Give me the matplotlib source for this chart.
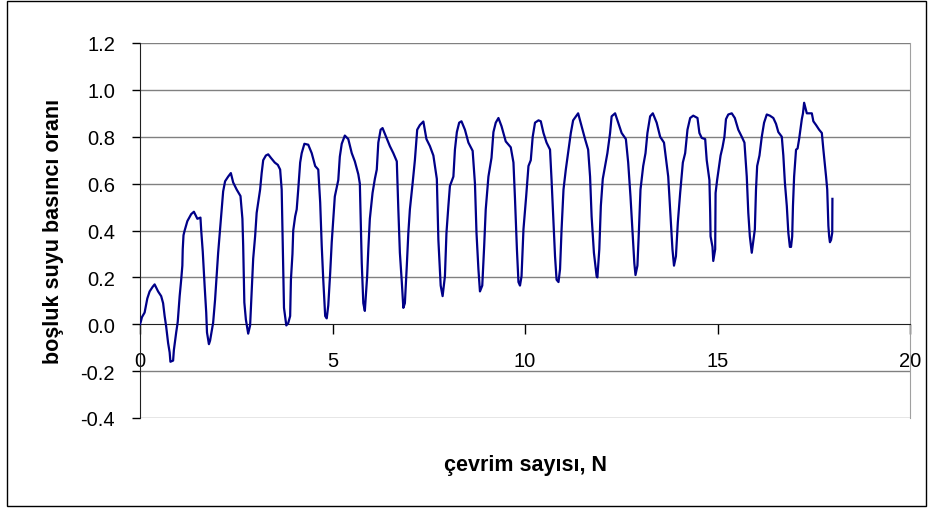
import matplotlib
matplotlib.use("Agg")
import matplotlib.pyplot as plt
from matplotlib.patches import Rectangle

plt.rcParams['font.family'] = ['Liberation Sans', 'DejaVu Sans']

# ---- data ----
cycle_N = [
    0.00, 0.02, 0.05, 0.12, 0.19, 0.25, 0.33, 0.38, 0.47, 0.55, 0.60, 0.64, 0.68, 0.73, 0.77, 0.79,
    0.86, 0.88, 0.94, 0.98, 1.03, 1.07, 1.10, 1.11, 1.13, 1.16, 1.23, 1.33, 1.40, 1.49, 1.57, 1.59, 1.63, 1.68, 1.72, 1.74, 1.79,
    1.82, 1.90, 1.95, 1.99, 2.03, 2.08, 2.12, 2.16, 2.21, 2.29, 2.36, 2.42, 2.51, 2.61, 2.66, 2.68, 2.71, 2.75, 2.81, 2.86,
    2.90, 2.94, 2.99, 3.03, 3.12, 3.16, 3.20, 3.27, 3.33, 3.40, 3.50, 3.58, 3.64, 3.68, 3.71, 3.74, 3.80, 3.85,
    3.90, 3.92, 3.96, 3.98, 4.03, 4.07, 4.11, 4.16, 4.20, 4.27, 4.37, 4.46, 4.55, 4.63, 4.68, 4.72, 4.76, 4.81, 4.85,
    4.89, 4.94, 4.98, 5.02, 5.06, 5.15, 5.19, 5.24, 5.32, 5.41, 5.50, 5.58, 5.67, 5.71, 5.76, 5.80, 5.84,
    5.90, 5.93, 5.97, 6.04, 6.10, 6.15, 6.19, 6.25, 6.30, 6.39, 6.49, 6.58, 6.67, 6.71, 6.75, 6.80, 6.84,
    6.88, 6.93, 6.97, 7.01, 7.08, 7.14, 7.20, 7.27, 7.36, 7.44, 7.53, 7.62, 7.71, 7.75, 7.81, 7.86,
    7.92, 7.96, 8.01, 8.05, 8.14, 8.18, 8.23, 8.29, 8.35, 8.44, 8.53, 8.64, 8.70, 8.74, 8.79, 8.83,
    8.89, 8.94, 8.98, 9.05, 9.13, 9.18, 9.24, 9.31, 9.39, 9.50, 9.63, 9.70, 9.74, 9.79, 9.83, 9.87,
    9.91, 9.96, 10.03, 10.09, 10.15, 10.20, 10.26, 10.35, 10.41, 10.48, 10.56, 10.65, 10.69, 10.74, 10.78, 10.82, 10.87,
    10.91, 10.95, 11.00, 11.06, 11.13, 11.19, 11.25, 11.38, 11.47, 11.56, 11.64, 11.69, 11.73, 11.79, 11.86, 11.88,
    11.93, 11.97, 12.02, 12.08, 12.14, 12.21, 12.25, 12.34, 12.42, 12.51, 12.62, 12.68, 12.74, 12.79, 12.84, 12.87,
    12.92, 12.96, 13.00, 13.07, 13.13, 13.18, 13.25, 13.32, 13.42, 13.51, 13.61, 13.72, 13.78, 13.83, 13.87,
    13.92, 13.97, 14.03, 14.10, 14.16, 14.22, 14.29, 14.37, 14.48, 14.53, 14.59, 14.68, 14.72, 14.79, 14.81, 14.82, 14.87, 14.89,
    14.94, 14.95, 14.99, 15.04, 15.08, 15.13, 15.18, 15.22, 15.28, 15.37, 15.45, 15.54, 15.63, 15.70, 15.76, 15.80, 15.84, 15.89,
    15.97, 16.00, 16.03, 16.09, 16.15, 16.21, 16.28, 16.36, 16.45, 16.52, 16.58, 16.67, 16.71, 16.75, 16.80, 16.84, 16.88, 16.91,
    16.94, 16.96, 16.99, 17.04, 17.08, 17.12, 17.19, 17.22, 17.25, 17.32, 17.45, 17.49, 17.56, 17.64, 17.71, 17.75, 17.82, 17.85,
    17.88, 17.90, 17.92, 17.95, 17.98, 17.985,
]
pore_pressure_ratio = [
    0.00, 0.01, 0.03, 0.05, 0.11, 0.14, 0.16, 0.17, 0.14, 0.12, 0.09, 0.035, -0.01, -0.08, -0.12, -0.16,
    -0.155, -0.11, -0.035, 0.01, 0.12, 0.19, 0.25, 0.32, 0.38, 0.40, 0.44, 0.47, 0.48, 0.45, 0.455, 0.40, 0.31, 0.16, 0.05, -0.035, -0.085,
    -0.07, 0.007, 0.105, 0.205, 0.305, 0.405, 0.49, 0.567, 0.61, 0.63, 0.645, 0.605, 0.575, 0.547, 0.45, 0.335, 0.093, 0.02, -0.04, -0.005,
    0.135, 0.28, 0.375, 0.475, 0.575, 0.645, 0.70, 0.72, 0.725, 0.71, 0.69, 0.68, 0.66, 0.575, 0.32, 0.07, -0.005, 0.005,
    0.035, 0.19, 0.30, 0.40, 0.46, 0.49, 0.575, 0.69, 0.73, 0.77, 0.766, 0.73, 0.675, 0.66, 0.52, 0.335, 0.19, 0.035, 0.025,
    0.08, 0.22, 0.35, 0.45, 0.545, 0.615, 0.715, 0.77, 0.805, 0.79, 0.73, 0.695, 0.64, 0.60, 0.26, 0.09, 0.057,
    0.205, 0.32, 0.45, 0.56, 0.62, 0.66, 0.775, 0.83, 0.837, 0.80, 0.76, 0.73, 0.695, 0.49, 0.305, 0.18, 0.07,
    0.09, 0.25, 0.39, 0.49, 0.60, 0.70, 0.83, 0.85, 0.865, 0.79, 0.76, 0.72, 0.62, 0.36, 0.165, 0.12,
    0.205, 0.39, 0.505, 0.59, 0.63, 0.745, 0.82, 0.86, 0.866, 0.83, 0.775, 0.74, 0.60, 0.39, 0.235, 0.14,
    0.165, 0.335, 0.49, 0.63, 0.71, 0.82, 0.86, 0.88, 0.845, 0.78, 0.755, 0.69, 0.535, 0.32, 0.18, 0.165,
    0.205, 0.405, 0.545, 0.675, 0.70, 0.80, 0.86, 0.87, 0.866, 0.816, 0.775, 0.745, 0.615, 0.43, 0.29, 0.19, 0.18,
    0.235, 0.405, 0.575, 0.66, 0.745, 0.816, 0.87, 0.90, 0.845, 0.79, 0.745, 0.63, 0.46, 0.305, 0.205, 0.20,
    0.32, 0.505, 0.62, 0.675, 0.73, 0.816, 0.887, 0.90, 0.86, 0.816, 0.79, 0.69, 0.545, 0.405, 0.26, 0.21,
    0.25, 0.405, 0.575, 0.675, 0.73, 0.816, 0.887, 0.90, 0.86, 0.80, 0.775, 0.63, 0.46, 0.32, 0.25,
    0.29, 0.435, 0.56, 0.69, 0.73, 0.83, 0.88, 0.89, 0.88, 0.816, 0.795, 0.79, 0.70, 0.615, 0.475, 0.375, 0.33, 0.27,
    0.32, 0.56, 0.615, 0.675, 0.72, 0.755, 0.80, 0.875, 0.895, 0.90, 0.88, 0.83, 0.80, 0.775, 0.63, 0.475, 0.375, 0.305,
    0.405, 0.575, 0.675, 0.72, 0.80, 0.86, 0.895, 0.89, 0.88, 0.855, 0.82, 0.80, 0.72, 0.605, 0.505, 0.39, 0.33, 0.33,
    0.375, 0.505, 0.63, 0.745, 0.75, 0.79, 0.875, 0.90, 0.945, 0.90, 0.90, 0.866, 0.85, 0.83, 0.816, 0.745, 0.63, 0.575,
    0.42, 0.375, 0.35, 0.36, 0.39, 0.535,
]
x_ticks = [0, 5, 10, 15, 20]
y_ticks = [-0.4, -0.2, 0.0, 0.2, 0.4, 0.6, 0.8, 1.0, 1.2]
y_tick_labels = ['-0.4', '-0.2', '0.0', '0.2', '0.4', '0.6', '0.8', '1.0', '1.2']
x_label = 'çevrim sayısı, N'
y_label = 'boşluk suyu basıncı oranı'

W, H = 934, 510
fig = plt.figure(figsize=(W / 100, H / 100), dpi=100)
ax = fig.add_axes([140 / W, 1 - 419 / H, 770 / W, 375 / H])

ax.plot(cycle_N, pore_pressure_ratio, color='#000088', lw=1.6, zorder=3)

ax.set_xlim(0, 20)
ax.set_ylim(-0.4, 1.2)

for yv in y_ticks:
    if yv != 0.0:
        ax.axhline(yv, color='#808080', lw=1.0, zorder=1)

ax.spines['bottom'].set_position(('data', 0))
ax.spines['bottom'].set_color('#202020')
ax.spines['left'].set_color('#202020')
ax.spines['top'].set_visible(False)
ax.spines['right'].set_color('#a0a0a0')

ax.set_yticks(y_ticks)
ax.set_yticklabels(y_tick_labels)
ax.set_xticks(x_ticks)
ax.set_xticklabels([str(t) for t in x_ticks])
ax.tick_params(axis='y', direction='out', length=6, pad=12, width=1, labelsize=14.5)
ax.tick_params(axis='x', direction='out', length=7, pad=12, width=1, labelsize=14.5)

ax.set_xlabel(x_label, fontsize=15.5, fontweight='bold')
ax.xaxis.set_label_coords(0.5, -0.095)
ax.set_ylabel(y_label, fontsize=15.5, fontweight='bold', labelpad=12)

fig.add_artist(Rectangle((7 / W, 1 - 507 / H), 919 / W, 505 / H, transform=fig.transFigure,
                         fill=False, edgecolor='black', lw=1.0))

fig.savefig('out.png', dpi=100)
